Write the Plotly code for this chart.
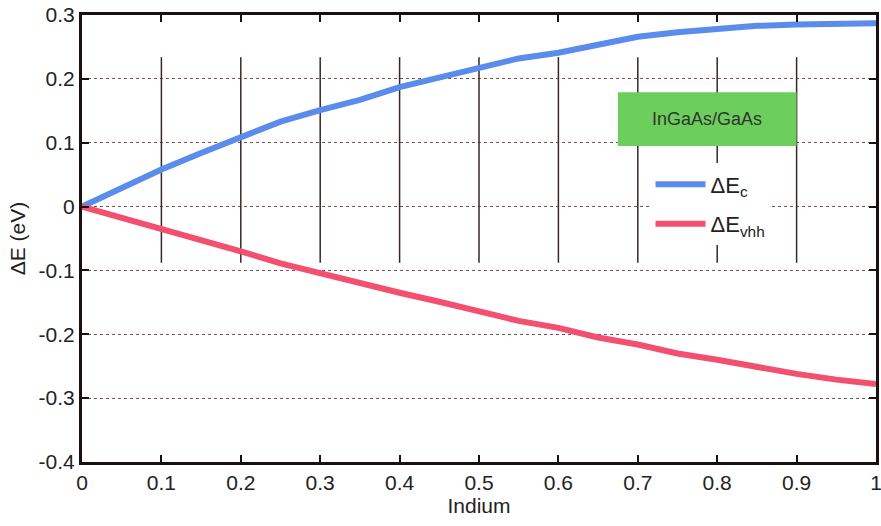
import plotly.graph_objects as go

indium = [0, 0.05, 0.1, 0.15, 0.2, 0.25, 0.3, 0.35, 0.4, 0.45, 0.5, 0.55, 0.6, 0.65, 0.7, 0.75, 0.8, 0.85, 0.9, 0.95, 1.0]
dEc = [0, 0.030, 0.058, 0.084, 0.108, 0.133, 0.151, 0.167, 0.187, 0.202, 0.217, 0.232, 0.241, 0.254, 0.266, 0.273, 0.279, 0.283, 0.285, 0.287, 0.287]
dEvhh = [0, -0.017, -0.034, -0.053, -0.070, -0.089, -0.105, -0.119, -0.135, -0.149, -0.163, -0.179, -0.190, -0.205, -0.216, -0.230, -0.240, -0.252, -0.262, -0.271, -0.278]

x_ticks = [0, 0.1, 0.2, 0.3, 0.4, 0.5, 0.6, 0.7, 0.8, 0.9, 1.0]
x_tick_text = ["0", "0.1", "0.2", "0.3", "0.4", "0.5", "0.6", "0.7", "0.8", "0.9", "1"]
y_ticks = [-0.4, -0.3, -0.2, -0.1, 0, 0.1, 0.2, 0.3]
y_tick_text = ["-0.4", "-0.3", "-0.2", "-0.1", "0", "0.1", "0.2", "0.3"]
vline_x = [0.1, 0.2, 0.3, 0.4, 0.5, 0.6, 0.7, 0.8, 0.9]

FONT = "Liberation Sans, Arial, sans-serif"

fig = go.Figure()
fig.add_trace(go.Scatter(x=indium, y=dEc, mode="lines", name="ΔE<sub>c</sub>",
                         line=dict(color="#5a8cec", width=6), legendgroup="a"))
fig.add_trace(go.Scatter(x=indium, y=dEvhh, mode="lines", name="ΔE<sub>vhh</sub>",
                         line=dict(color="#f2506e", width=6), legendgroup="b"))

shapes = []
for xv in vline_x:
    shapes.append(dict(type="line", xref="x", yref="y", x0=xv, x1=xv, y0=-0.088, y1=0.234,
                       line=dict(color="#3a2626", width=1.5), layer="between"))
shapes.append(dict(type="rect", xref="x", yref="y", x0=0.675, x1=0.9, y0=0.095, y1=0.179,
                   fillcolor="#6dcf5b", line=dict(width=0), layer="between"))
fig.update_layout(shapes=shapes)
fig.add_annotation(x=0.7875, y=0.137, xref="x", yref="y", text="InGaAs/GaAs", showarrow=False,
                   font=dict(family=FONT, size=18, color="#333333"))

fig.update_layout(
    width=881, height=526,
    margin=dict(l=82, r=2, t=15, b=64),
    paper_bgcolor="white", plot_bgcolor="white",
    font=dict(family=FONT, size=21, color="#222222"),
    showlegend=True,
    legend=dict(x=0.716, y=0.668, xanchor="left", yanchor="top", bgcolor="white",
                font=dict(family=FONT, size=22, color="#222222"),
                tracegroupgap=8, traceorder="grouped", itemwidth=50),
    xaxis=dict(range=[0, 1], tickvals=x_ticks, ticktext=x_tick_text, showgrid=False,
               zeroline=False, showline=True, linecolor="#1a1010", linewidth=3, mirror="ticks",
               ticks="inside", ticklen=7, tickwidth=2, tickcolor="#1a1010",
               ticklabeloverflow="allow", automargin=False,
               title=dict(text="Indium", standoff=6, font=dict(size=21))),
    yaxis=dict(range=[-0.4, 0.3], tickvals=y_ticks, ticktext=y_tick_text, showgrid=True,
               gridcolor="#7a5050", griddash="dot", gridwidth=1,
               zeroline=False, showline=True, linecolor="#1a1010", linewidth=3, mirror="ticks",
               ticks="inside", ticklen=7, tickwidth=2, tickcolor="#1a1010",
               title=dict(text="ΔE (eV)", standoff=8, font=dict(size=21))),
)

fig.write_html("out.html")
